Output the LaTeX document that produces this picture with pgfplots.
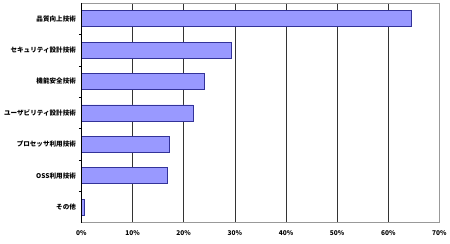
\documentclass[border=0pt]{standalone}
\usepackage{pgfplots}
\pgfplotsset{compat=1.18}
\usepackage{fontspec}
\setmainfont{Liberation Sans}
\newfontfamily\jp{Noto Sans CJK JP}
\definecolor{barfill}{HTML}{9999FF}
\definecolor{baredge}{HTML}{333399}
\begin{document}
\begin{tikzpicture}[x=1bp,y=1bp]
\path (0,0) rectangle (450,244);
\begin{axis}[
  at={(81.5bp,21bp)}, anchor=south west,
  scale only axis, width=358.5bp, height=220bp,
  xbar, bar width=16bp,
  xmin=0, xmax=70, ymin=-0.5, ymax=6.5, y dir=reverse,
  xtick={0,10,...,70},
  xticklabels={0\%,10\%,20\%,30\%,40\%,50\%,60\%,70\%},
  ytick={0,...,6},
  yticklabels={品質向上技術,セキュリティ設計技術,機能安全技術,ユーザビリティ設計技術,プロセッサ利用技術,OSS利用技術,その他},
  minor ytick={0.5,1.5,...,5.5},
  tick label style={font=\jp\fontsize{6.6}{7.5}\selectfont\bfseries},
  xticklabel style={yshift=-4bp},
  yticklabel style={xshift=-2bp},
  major tick length=0pt,
  minor tick length=2.5bp,
  every tick/.style={black},
  ytick pos=left, xtick pos=bottom,
  tick align=outside,
  xmajorgrids, major grid style={black!80, line width=0.6pt},
  axis line style={gray!80, line width=0.8pt},
  clip=false,
]
\addplot[fill=barfill, draw=baredge, line width=0.5pt] coordinates {
 (64.4,0) (29.3,1) (24.1,2) (21.8,3) (17.2,4) (16.8,5) (0.6,6)};
\draw[black, line width=0.6pt] (rel axis cs:0,0) -- (rel axis cs:0,1);
\end{axis}
\end{tikzpicture}
\end{document}
